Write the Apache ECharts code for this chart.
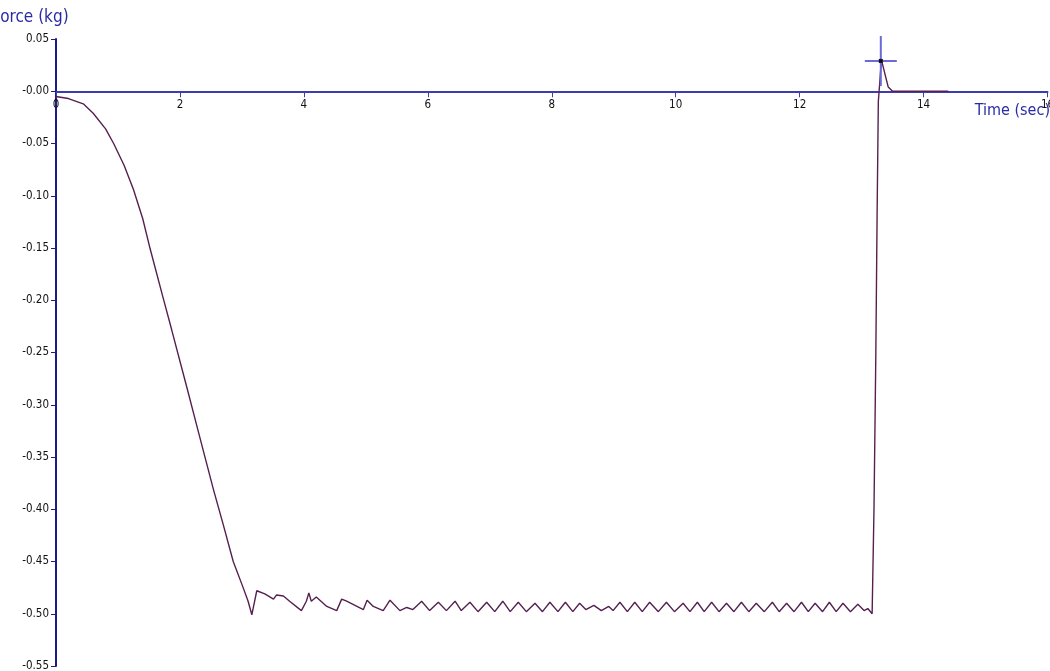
<!DOCTYPE html>
<html>
<head>
<meta charset="utf-8">
<script src="https://cdn.jsdelivr.net/npm/echarts@6/dist/echarts.min.js"></script>
<style>
html,body{margin:0;padding:0;background:#fff;}
#chart{width:1050px;height:671px;}
</style>
</head>
<body>
<div id="chart"></div>
<script>
// Time (sec)
const timeSec = [
  0, 0.2, 0.44, 0.6, 0.8, 0.93, 1.1, 1.25, 1.4, 1.52, 1.73, 1.87, 2.11, 2.32, 2.54, 2.70, 2.86, 3.02, 3.10, 3.16,
  3.24, 3.37, 3.51, 3.56, 3.67, 3.77, 3.96, 4.04, 4.08, 4.12, 4.20, 4.37, 4.53, 4.61, 4.69, 4.96, 5.02, 5.12, 5.28, 5.39,
  5.55, 5.66, 5.76, 5.90, 6.03, 6.17, 6.30, 6.44, 6.54, 6.68, 6.81, 6.95, 7.08, 7.21, 7.33, 7.46, 7.59, 7.73, 7.85, 7.97,
  8.10, 8.22, 8.34, 8.45, 8.55, 8.68, 8.80, 8.92, 8.99, 9.10, 9.22, 9.34, 9.46, 9.58, 9.72, 9.85, 9.98, 10.12, 10.23, 10.35,
  10.46, 10.58, 10.70, 10.82, 10.94, 11.06, 11.18, 11.30, 11.43, 11.56, 11.67, 11.79, 11.91, 12.03, 12.14, 12.25, 12.37, 12.48, 12.59, 12.70,
  12.82, 12.94, 13.04, 13.10, 13.17, 13.20, 13.23, 13.25, 13.27, 13.32, 13.43, 13.50, 14.40
];
// Force (kg)
const forceKg = [
  -0.005, -0.007, -0.012, -0.021, -0.036, -0.050, -0.071, -0.094, -0.122, -0.151, -0.198, -0.229, -0.283, -0.331, -0.381, -0.415, -0.450, -0.475, -0.488, -0.501,
  -0.478, -0.481, -0.486, -0.482, -0.483, -0.488, -0.497, -0.488, -0.480, -0.488, -0.484, -0.493, -0.497, -0.486, -0.488, -0.496, -0.487, -0.493, -0.497, -0.487,
  -0.497, -0.494, -0.496, -0.488, -0.497, -0.489, -0.497, -0.488, -0.497, -0.489, -0.498, -0.489, -0.498, -0.488, -0.498, -0.489, -0.498, -0.490, -0.498, -0.489,
  -0.498, -0.489, -0.498, -0.490, -0.496, -0.492, -0.497, -0.493, -0.497, -0.489, -0.498, -0.489, -0.498, -0.489, -0.498, -0.489, -0.498, -0.490, -0.498, -0.489,
  -0.498, -0.489, -0.498, -0.490, -0.498, -0.489, -0.498, -0.490, -0.498, -0.489, -0.498, -0.490, -0.498, -0.489, -0.498, -0.490, -0.498, -0.489, -0.498, -0.490,
  -0.498, -0.491, -0.497, -0.495, -0.500, -0.400, -0.250, -0.120, -0.010, 0.030, 0.004, 0.000, 0.000
];
// Cursor crosshair position [time, force]
const cursorPoint = [13.31, 0.029];
// Axis ticks
const xTicks = { min: 0, max: 16, step: 2 };
const yTicks = { min: -0.55, max: 0.05, step: 0.05 };

const chart = echarts.init(document.getElementById('chart'), null, { renderer: 'canvas' });
const narrow = "'DejaVu Sans Condensed', 'Liberation Sans Narrow', 'Arial Narrow', sans-serif";

const gridTop = 39, gridBottom = 5, chartH = 671;
const plotH = chartH - gridTop - gridBottom;
// distance from the top edge of the grid to the zero line
const zeroOffset = plotH * (yTicks.max - 0) / (yTicks.max - yTicks.min);

chart.setOption({
  backgroundColor: '#ffffff',
  animation: false,
  title: [{
    text: 'Force (kg)',
    left: -8,
    top: 9,
    padding: 0,
    textStyle: { fontFamily: narrow, fontSize: 17, fontWeight: 'normal', color: '#2a2aa8' }
  }, {
    text: 'Time (sec)',
    right: 0,
    top: 103,
    padding: 0,
    textStyle: { fontFamily: narrow, fontSize: 16, fontWeight: 'normal', color: '#2a2aa8' }
  }],
  grid: { left: 56, right: 2.5, top: gridTop, bottom: gridBottom, containLabel: false, outerBoundsMode: 'none' },
  xAxis: {
    type: 'value',
    position: 'top',
    offset: -zeroOffset,
    min: xTicks.min,
    max: xTicks.max,
    interval: xTicks.step,
    axisLine: { onZero: false, lineStyle: { color: '#3c3cb0', width: 2 } },
    axisTick: { show: true, inside: true, length: 6, lineStyle: { color: '#3c3cb0', width: 1 } },
    axisLabel: { inside: true, fontFamily: narrow, fontSize: 11.5, color: '#111', margin: 8,
      formatter: v => String(Math.round(v)) },
    splitLine: { show: false }
  },
  yAxis: {
    type: 'value',
    min: yTicks.min,
    max: yTicks.max,
    interval: yTicks.step,
    axisLine: { show: true, onZero: false, lineStyle: { color: '#1c1c86', width: 2 } },
    axisTick: { show: true, length: 5, lineStyle: { color: '#1c1c86', width: 1 } },
    axisLabel: { fontFamily: narrow, fontSize: 11.5, color: '#111', margin: 7,
      formatter: v => (Math.abs(v) < 1e-9 ? '-0.00' : v.toFixed(2)) },
    splitLine: { show: false }
  },
  series: [{
    type: 'line',
    data: timeSec.map((t, i) => [t, forceKg[i]]),
    symbol: 'none',
    lineStyle: { color: '#552050', width: 1.4 },
    markPoint: {
      silent: true,
      label: { show: false },
      data: [
        {
          coord: cursorPoint,
          symbol: 'path://M0,24 H32 V26 H0 Z M15,0 H17 V50 H15 Z',
          symbolSize: [32, 50],
          symbolKeepAspect: false,
          itemStyle: { color: '#6a6ad8' }
        },
        {
          coord: cursorPoint,
          symbol: 'rect',
          symbolSize: 4,
          itemStyle: { color: '#111' }
        }
      ]
    }
  }]
});
</script>
</body>
</html>
